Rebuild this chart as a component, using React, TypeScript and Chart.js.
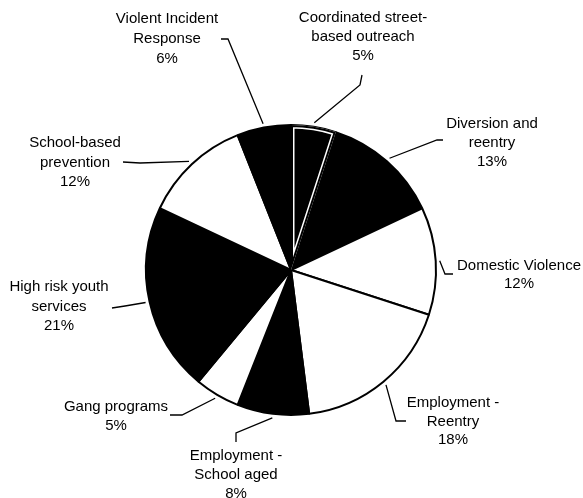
import React, { useEffect, useRef } from "react";
import { Chart, registerables } from "chart.js";

Chart.register(...registerables);

// ---- data ----
const categories = [
  "Coordinated street-\nbased outreach",
  "Diversion and\nreentry",
  "Domestic Violence",
  "Employment -\nReentry",
  "Employment -\nSchool aged",
  "Gang programs",
  "High risk youth\nservices",
  "School-based\nprevention",
  "Violent Incident\nResponse",
];
const shares = [5, 13, 12, 18, 8, 5, 21, 12, 6];
const sliceFills = ["#000", "#000", "#fff", "#fff", "#000", "#fff", "#000", "#fff", "#000"];

// ---- label layout (offsets from pie centre, px) ----
type LabelLayout = { elbow: [number, number]; stub: [number, number]; text: [number, number]; lh: number };
const labelLayout: LabelLayout[] = [
  { elbow: [69, -185], stub: [71, -195], text: [72, -252], lh: 19 },
  { elbow: [146, -130], stub: [152, -130], text: [201, -146], lh: 19 },
  { elbow: [154, 4], stub: [162, 4], text: [228, -4], lh: 18 },
  { elbow: [105, 151], stub: [115, 151], text: [162, 133], lh: 18.5 },
  { elbow: [-55, 163], stub: [-55, 172], text: [-55, 186], lh: 19 },
  { elbow: [-109, 145], stub: [-121, 145], text: [-175, 137], lh: 19 },
  { elbow: [-166, 36], stub: [-179, 38], text: [-232, 17], lh: 19.5 },
  { elbow: [-151, -107], stub: [-168, -108], text: [-216, -127], lh: 19.5 },
  { elbow: [-63, -231], stub: [-70, -231], text: [-124, -251], lh: 19.8 },
];

const labelPlugin = {
  id: "leaderLabels",
  afterDatasetsDraw(chart: any) {
    const meta = chart.getDatasetMeta(0);
    const ctx: CanvasRenderingContext2D = chart.ctx;
    const total = shares.reduce((a, b) => a + b, 0);

    // inner white outline of first (highlighted) slice
    const a0 = meta.data[0].getProps(["x", "y", "startAngle", "endAngle", "outerRadius"], true);
    ctx.save();
    ctx.beginPath();
    ctx.moveTo(a0.x, a0.y);
    ctx.arc(a0.x, a0.y, a0.outerRadius, a0.startAngle, a0.endAngle);
    ctx.closePath();
    ctx.clip();
    ctx.lineJoin = "miter";
    ctx.strokeStyle = "#fff";
    ctx.lineWidth = 7;
    ctx.stroke();
    ctx.strokeStyle = "#000";
    ctx.lineWidth = 4;
    ctx.stroke();
    ctx.restore();

    ctx.save();
    ctx.strokeStyle = "#000";
    ctx.lineWidth = 1.3;
    ctx.fillStyle = "#000";
    ctx.font = '15px "Liberation Sans", Arial, sans-serif';
    ctx.textAlign = "center";
    ctx.textBaseline = "middle";
    meta.data.forEach((arc: any, i: number) => {
      const p = arc.getProps(["x", "y", "startAngle", "endAngle", "outerRadius"], true);
      const L = labelLayout[i];
      const mid = (p.startAngle + p.endAngle) / 2;
      const r = p.outerRadius + 4;
      ctx.beginPath();
      ctx.moveTo(p.x + Math.cos(mid) * r, p.y + Math.sin(mid) * r);
      ctx.lineTo(p.x + L.elbow[0], p.y + L.elbow[1]);
      ctx.lineTo(p.x + L.stub[0], p.y + L.stub[1]);
      ctx.stroke();
      const pct = Math.round((shares[i] / total) * 100) + "%";
      const lines = categories[i].split("\n").concat(pct);
      lines.forEach((t, k) => {
        ctx.fillText(t, p.x + L.text[0], p.y + L.text[1] + k * L.lh);
      });
    });
    ctx.restore();
  },
};

export default function App() {
  const ref = useRef<HTMLCanvasElement | null>(null);
  useEffect(() => {
    if (!ref.current) return;
    const chart = new Chart(ref.current, {
      type: "pie",
      data: {
        labels: categories,
        datasets: [
          {
            data: shares,
            backgroundColor: sliceFills,
            borderColor: "#000",
            borderWidth: 2,
          },
        ],
      },
      options: {
        responsive: false,
        animation: false,
        layout: { padding: { left: 145, right: 146, top: 124, bottom: 82 } },
        plugins: { legend: { display: false }, tooltip: { enabled: false } },
      },
      plugins: [labelPlugin],
    });
    return () => chart.destroy();
  }, []);
  return (
    <div style={{ position: "absolute", left: 0, top: 0, width: 583, height: 498, background: "#fff" }}>
      <canvas ref={ref} width={583} height={498} style={{ display: "block" }} />
    </div>
  );
}
